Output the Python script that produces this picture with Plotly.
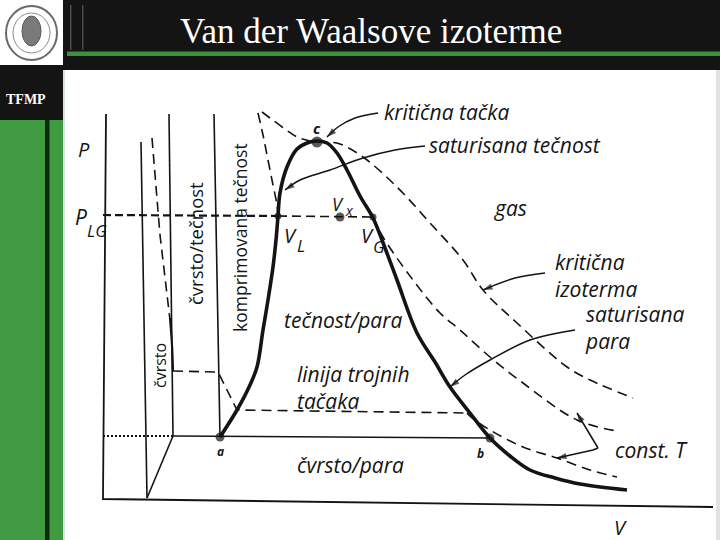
import plotly.graph_objects as go

# ---------------- data (diagram units: V to the right, P upward) ----------------
frame_V = [3, 0, 610]
frame_P = [386, 1, -7]

line2_V = [38, 44];   line2_P = [358, 2]
line3_V = [66, 70];   line3_P = [386, 64]
line4_V = [111, 117]; line4_P = [386, 63]
diag_V = [44, 70];    diag_P = [2, 64]
triple_V = [70, 387]; triple_P = [64, 62]
dotted_V = [0, 70];   dotted_P = [64, 64]

fusion_dash_V = [49, 57, 67];   fusion_dash_P = [362, 265, 180]
fusion_solid_V = [67, 69, 70];  fusion_solid_P = [182, 155, 129]

step_V = [70, 115, 134, 364]
step_P = [129, 128, 90, 87]
low_iso_V = [364, 369, 387, 420, 454, 487, 514]
low_iso_P = [87, 82, 70, 53, 42, 30, 23]

steep_V = [155, 160, 165, 170, 174, 175]
steep_P = [387, 365, 340, 315, 295, 284]

plg_left_V = [0, 175];   plg_left_P = [285, 284]
plg_right_V = [175, 270]; plg_right_P = [284, 283]

mid_iso_V = [270, 280, 310, 337, 357, 387, 420, 474, 514]
mid_iso_P = [283, 263, 220, 187, 170, 143, 117, 80, 69]

crit_iso_V = [159, 167, 182, 194, 207, 214, 224, 237, 260, 294, 327, 360, 380, 414, 464, 487, 530]
crit_iso_P = [388, 382, 371, 363, 359, 358, 358, 356, 343, 313, 277, 240, 210, 177, 133, 120, 102]

dome_V = [117, 134, 147, 154, 160, 165, 170, 173, 175, 177, 184, 194, 204, 214, 224, 234, 244,
          257, 270, 282, 294, 314, 332, 347, 367, 387, 407, 427, 452, 477, 524]
dome_P = [63, 90, 115, 133, 170, 200, 233, 260, 284, 307, 333, 351, 357, 359, 357, 347, 330,
          304, 282, 252, 220, 167, 138, 113, 87, 62, 44, 30, 22, 16, 10]

point_names = ["c", "VL", "Vx", "VG", "a", "b"]
point_V = [214, 175, 237, 270, 117, 387]
point_P = [358, 284, 283, 283, 63, 62]
point_size = [11, 7, 9, 7, 9, 9]

arrow_crit_V = [275, 252, 235, 224];      arrow_crit_P = [387, 382, 373, 363]
arrow_satliq_V = [322, 292, 260, 227, 197, 182]; arrow_satliq_P = [354, 350, 342, 330, 320, 310]
arrow_critiso_V = [442, 412, 380];        arrow_critiso_P = [227, 222, 210]
arrow_satvap_V = [472, 427, 387, 362, 347]; arrow_satvap_P = [170, 160, 140, 125, 113]
constT_up_V = [495, 474];                 constT_up_P = [52, 87]
constT_dn_V = [495, 490, 454];            constT_dn_P = [52, 50, 42]

INK = "#141414"
fig = go.Figure()


def curve(V, P, width=1.5, dash="solid", shape="linear"):
    fig.add_trace(go.Scatter(x=V, y=P, mode="lines", hoverinfo="skip", showlegend=False,
                             line=dict(color=INK, width=width, dash=dash, shape=shape)))


def arrow_curve(V, P, shape="spline"):
    curve(V, P, 1.5, "solid", shape)
    fig.add_trace(go.Scatter(x=V[-2:], y=P[-2:], mode="markers", hoverinfo="skip", showlegend=False,
                             marker=dict(symbol="arrow", angleref="previous", size=[0, 10],
                                         color=INK, line=dict(width=0))))


curve(frame_V, frame_P, 1.8)
curve(line2_V, line2_P, 1.6)
curve(line3_V, line3_P, 1.6)
curve(line4_V, line4_P, 1.6)
curve(diag_V, diag_P, 1.6)
curve(triple_V, triple_P, 1.6)
curve(dotted_V, dotted_P, 1.8, "2px,2px")
curve(fusion_dash_V, fusion_dash_P, 1.6, "10px,6px")
curve(fusion_solid_V, fusion_solid_P, 2.2, "solid", "spline")
curve(step_V, step_P, 1.6, "10px,6px")
curve(low_iso_V, low_iso_P, 1.6, "10px,6px", "spline")
curve(steep_V, steep_P, 1.6, "10px,6px", "spline")
curve(plg_left_V, plg_left_P, 2.2, "8px,4px")
curve(plg_right_V, plg_right_P, 1.6, "9px,5px")
curve(mid_iso_V, mid_iso_P, 1.6, "10px,6px", "spline")
curve(crit_iso_V, crit_iso_P, 1.6, "10px,6px", "spline")
curve(dome_V, dome_P, 3.6, "solid", "spline")
arrow_curve(arrow_crit_V, arrow_crit_P)
arrow_curve(arrow_satliq_V, arrow_satliq_P)
arrow_curve(arrow_critiso_V, arrow_critiso_P)
arrow_curve(arrow_satvap_V, arrow_satvap_P)
arrow_curve(constT_up_V, constT_up_P, "linear")
arrow_curve(constT_dn_V, constT_dn_P, "linear")

fig.add_trace(go.Scatter(x=point_V, y=point_P, mode="markers", hoverinfo="skip", showlegend=False,
                         text=point_names,
                         marker=dict(color=INK, size=point_size, line=dict(width=0))))

annotations = []
LBL = "Open Sans"


def label(text, V, P, size=21, italic=True, xanchor="left", angle=0, bold=False):
    t = text
    if bold:
        t = "<b>" + t + "</b>"
    if italic:
        t = "<i>" + t + "</i>"
    annotations.append(dict(x=V, y=P, xref="x", yref="y", text=t, showarrow=False,
                            xanchor=xanchor, yanchor="middle", textangle=angle, align="left",
                            font=dict(family=LBL, size=size, color=INK)))


label("kritična tačka", 279, 388)
label("saturisana tečnost", 324, 355)
label("gas", 389, 292)
label("kritična<br>izoterma", 450, 225)
label("saturisana<br>para", 480, 173)
label("tečnost/para", 179, 180)
label("linija trojnih<br>tačaka", 192, 113)
label("čvrsto/para", 192, 35)
label("const. T", 510, 50)
label("P", -19, 351, 20, xanchor="center")
label("P", -22, 283, 21, xanchor="center")
label("LG", -18, 270, 17)
label("V", 517, -27, 20, xanchor="center")
label("V", 235, 296, 18, xanchor="center")
label("x", 240, 290, 14)
label("V", 187, 265, 20, xanchor="center")
label("L", 192, 255, 17)
label("V", 264, 265, 20, xanchor="center")
label("G", 268, 254, 17)
label("c", 214, 372, 15, xanchor="center", bold=True)
label("a", 117, 49, 12, xanchor="center", bold=True)
label("b", 377, 47, 12, xanchor="center", bold=True)
label("čvrsto", 57, 134, 16, italic=False, xanchor="center", angle=-90)
label("čvrsto/tečnost", 92, 256, 18.5, italic=False, xanchor="center", angle=-90)
label("komprimovana tečnost", 137, 262, 17.5, italic=False, xanchor="center", angle=-90)

# ---------------- slide chrome ----------------
W, H = 720, 540


def prect(x0, y0, x1, y1, color, kind="rect", line_color=None, lw=0):
    return dict(type=kind, xref="paper", yref="paper", x0=x0 / W, x1=x1 / W,
                y0=1 - y1 / H, y1=1 - y0 / H, fillcolor=color, layer="below",
                line=dict(color=line_color or color, width=lw))


shapes = [
    prect(63, 0, 720, 70, "#141414"),
    prect(67, 51.5, 720, 56, "#3f8f3f"),
    prect(70, 5, 71.5, 50, "#4a4a4a"),
    prect(82, 5, 83.5, 50, "#4a4a4a"),
    prect(0, 65, 63, 120, "#141414"),
    prect(0, 120, 63, 540, "#3f9a42"),
    prect(45, 120, 49.5, 540, "#0c2a0e"),
    prect(63, 70, 65, 540, "#d8e3d8"),
    prect(716, 70, 720, 540, "#e2e2e2"),
    prect(6, 6, 57, 60, "rgba(0,0,0,0)", "circle", "#6a6a6a", 2),
    prect(13, 13, 50, 53, "rgba(0,0,0,0)", "circle", "#8a8a8a", 1),
    prect(22, 16, 41, 46, "#7a7a7a", "circle", "#555555", 1),
]

annotations.append(dict(x=371 / W, y=1 - 32 / H, xref="paper", yref="paper",
                        text="Van der Waalsove izoterme", showarrow=False,
                        xanchor="center", yanchor="middle",
                        font=dict(family="Liberation Serif", size=35, color="white")))
annotations.append(dict(x=26 / W, y=1 - 100 / H, xref="paper", yref="paper",
                        text="<b>TFMP</b>", showarrow=False, xanchor="center", yanchor="middle",
                        font=dict(family="Liberation Serif", size=14, color="white")))

fig.update_layout(
    width=W, height=H, margin=dict(l=0, r=0, t=0, b=0),
    paper_bgcolor="white", plot_bgcolor="white",
    xaxis=dict(range=[-103, 617], visible=False, fixedrange=True),
    yaxis=dict(range=[-40, 500], visible=False, fixedrange=True),
    shapes=shapes, annotations=annotations, showlegend=False,
)

fig.write_html("out.html", config={"displayModeBar": False},
               post_script="document.body.style.margin='0';document.body.style.padding='0';"
                           "document.body.style.overflow='hidden';")
